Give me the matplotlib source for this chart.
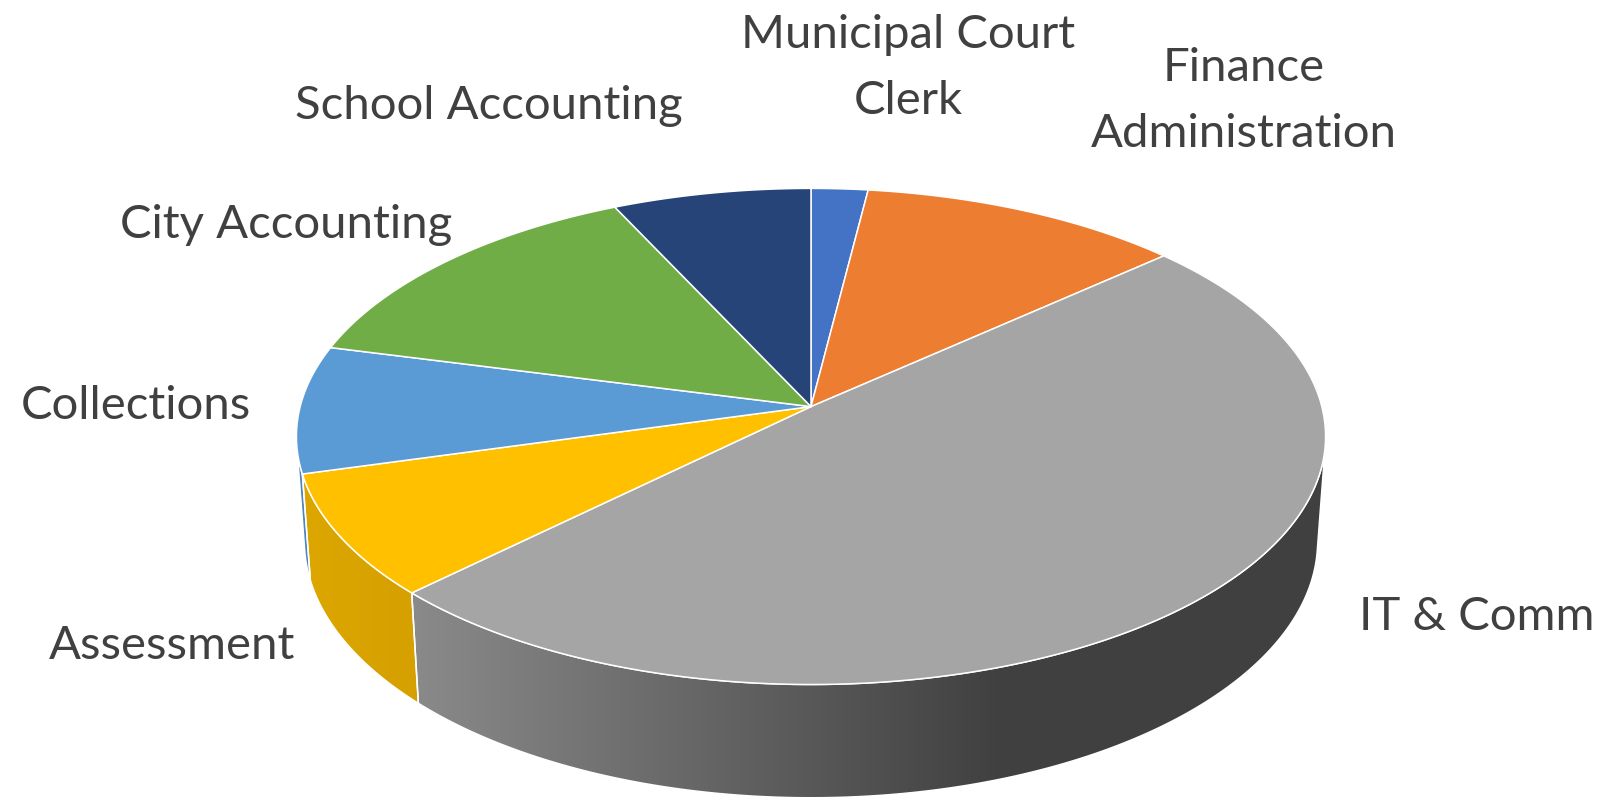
import numpy as np
import matplotlib.pyplot as plt
from matplotlib.patches import Polygon

# slices, clockwise from 12 o'clock
labels = ["Municipal Court\nClerk", "Finance\nAdministration", "IT & Comm",
          "Assessment", "Collections", "City Accounting", "School Accounting"]
shares = [2.0, 11.4, 49.3, 8.0, 8.3, 14.0, 7.0]
colors = ["#4472C4", "#ED7D31", "#A5A5A5", "#FFC000", "#5B9BD5", "#70AD47", "#264478"]

# label anchors in pixels: (center x, baseline of last line)
label_xy = [(908, 114), (1244, 147), (1477, 630), (172, 659),
            (136, 419), (286, 238), (489, 119)]

W, H = 1614, 801
CX, CY = 811, 406.6
SCALE = 3727.0
DIST = 7.296
ELEV = np.radians(28.59)
THICK = 0.2356
LINE_GAP = 66
TEXT_COLOR = "#404040"


def project(t, z, r=1.0):
    # point on disk (angle t clockwise from top), z=0 top face, perspective view
    x = r * np.sin(t)
    y = r * np.cos(t)
    depth = DIST + y * np.cos(ELEV) - z * np.sin(ELEV)
    sx = x / depth
    sy = (y * np.sin(ELEV) + z * np.cos(ELEV)) / depth
    return CX + SCALE * sx, CY - SCALE * sy


def shade(x):
    # side wall gets darker towards the right
    return np.interp(x, [295, 415, 1000, 1330], [0.87, 0.835, 0.39, 0.39])


def hex_rgb(c):
    c = c.lstrip("#")
    return np.array([int(c[i:i + 2], 16) for i in (0, 2, 4)]) / 255.0


fig = plt.figure(figsize=(W / 100, H / 100), dpi=100)
ax = fig.add_axes([0, 0, 1, 1])
ax.set_xlim(0, W)
ax.set_ylim(H, 0)
ax.axis("off")

fracs = np.array(shares) / np.sum(shares)
edges = np.concatenate([[0], np.cumsum(fracs)]) * 2 * np.pi
t_vis = np.arccos(-1.0 / (DIST * np.cos(ELEV)))

# side walls
xs_img = np.arange(W) + 0.5
for i, col in enumerate(colors):
    lo = max(edges[i], t_vis)
    hi = min(edges[i + 1], 2 * np.pi - t_vis)
    if lo >= hi:
        continue
    ts = np.linspace(lo, hi, 200)
    tx, ty = project(ts, 0.0)
    bx, by = project(ts[::-1], -THICK)
    pts = np.column_stack([np.concatenate([tx, bx]), np.concatenate([ty, by])])
    base = hex_rgb(col)
    grad = np.clip(base[None, :] * shade(xs_img)[:, None], 0, 1)[None, :, :]
    im = ax.imshow(grad, extent=(0, W, H, 0), aspect="auto", interpolation="bilinear", zorder=1)
    clip = Polygon(pts, closed=True, transform=ax.transData)
    im.set_clip_path(clip)
    ax.add_patch(Polygon(pts, closed=True, facecolor="none", edgecolor="white",
                         linewidth=1.1, zorder=2))

# top face
ax0, ay0 = project(0.0, 0.0, r=0.0)
for i, col in enumerate(colors):
    ts = np.linspace(edges[i], edges[i + 1], 300)
    tx, ty = project(ts, 0.0)
    pts = np.column_stack([np.concatenate([[ax0], tx]), np.concatenate([[ay0], ty])])
    ax.add_patch(Polygon(pts, closed=True, facecolor=col, edgecolor="white",
                         linewidth=1.1, joinstyle="round", zorder=3))

# labels
for lab, (lx, ly) in zip(labels, label_xy):
    lines = lab.split("\n")
    for k, line in enumerate(lines):
        yy = ly - (len(lines) - 1 - k) * LINE_GAP
        ax.text(lx, yy, line, ha="center", va="baseline", fontsize=34,
                family="Lato", color=TEXT_COLOR, zorder=4)

ax.set_xlim(0, W)
ax.set_ylim(H, 0)
fig.savefig("out.png", dpi=100)
